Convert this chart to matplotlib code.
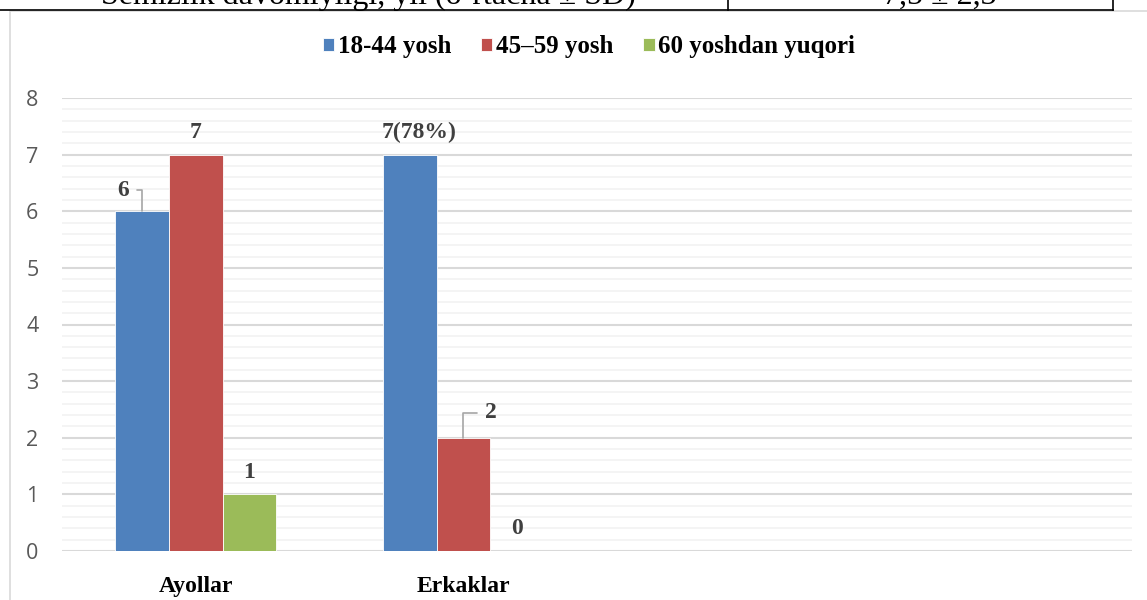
import matplotlib
matplotlib.use("Agg")
import matplotlib.pyplot as plt
from matplotlib.patches import Rectangle
from matplotlib.lines import Line2D
import numpy as np

# data
categories = ["Ayollar", "Erkaklar", "", ""]
series_names = ["18-44 yosh", "45\u201359 yosh", "60 yoshdan yuqori"]
young = [6, 7]
middle = [7, 2]
old = [1, 0]
young_labels = ["6", "7(78%)"]
middle_labels = ["7", "2"]
old_labels = ["1", "0"]
y_ticks = [0, 1, 2, 3, 4, 5, 6, 7, 8]

colors = ["#4f81bd", "#c0504d", "#9bbb59"]
serif = "Liberation Serif"

fig = plt.figure(figsize=(11.47, 6), dpi=100)
W, H = 1147, 600

# cut-off table row above the chart
fig.add_artist(Line2D([0, 1113 / W], [1 - 9.5 / H, 1 - 9.5 / H], color="black", lw=1.2))
fig.add_artist(Line2D([728 / W, 728 / W], [1 - 9.5 / H, 1.0], color="black", lw=1.2))
fig.add_artist(Line2D([1113 / W, 1113 / W], [1 - 9.5 / H, 1.0], color="black", lw=1.2))
fig.text(368 / W, 1 - 4 / H, "Semizlik davomiyligi, yil (o\u2018rtacha \u00b1 SD)",
         ha="center", va="baseline", family=serif, fontsize=23)
fig.text(940 / W, 1 - 4 / H, "7,5 \u00b1 2,3", ha="center", va="baseline",
         family=serif, fontsize=23)

# chart frame
fig.add_artist(Rectangle((9.5 / W, -0.1), 1.2, 1 - 10.5 / H + 0.1, transform=fig.transFigure,
                         fill=False, edgecolor="#d9d9d9", lw=1.2))

ax = fig.add_axes([62 / W, 1 - 551 / H, (1132 - 62) / W, (551 - 98) / H])

x = np.arange(len(categories))
bw = 0.2
groups = [young, middle, old]
labels = [young_labels, middle_labels, old_labels]
lab_font = dict(family=serif, fontsize=17, fontweight="bold", color="#404040")
leader = dict(arrowstyle="-", color="#a6a6a6", lw=1.2,
              connectionstyle="angle,angleA=0,angleB=90,rad=0", shrinkA=4, shrinkB=0)
for i, (vals, labs) in enumerate(zip(groups, labels)):
    xs = x[:len(vals)] + (i - 1) * bw
    ax.bar(xs, vals, width=bw, color=colors[i], edgecolor="white", linewidth=0.6,
           label=series_names[i], zorder=3)
    for xi, v, lab in zip(xs, vals, labs):
        if lab == "6":
            ax.annotate(lab, xy=(xi, v), xytext=(-14, 15), textcoords="offset points",
                        ha="center", va="center", arrowprops=leader, **lab_font)
        elif lab == "2":
            ax.annotate(lab, xy=(xi, v), xytext=(20, 18), textcoords="offset points",
                        ha="center", va="center", arrowprops=leader, **lab_font)
        else:
            dx = 7 if lab == "7(78%)" else 0
            ax.annotate(lab, xy=(xi, v), xytext=(dx, 16), textcoords="offset points",
                        ha="center", va="center", **lab_font)

ax.set_xlim(-0.5, len(categories) - 0.5)
ax.set_ylim(0, 8)
ax.set_yticks(y_ticks)
ax.set_yticks(np.arange(0, 8.01, 0.2), minor=True)
ax.set_xticks(x)
ax.set_xticklabels(categories, family=serif, fontsize=17, fontweight="bold")
ax.tick_params(axis="x", length=0, pad=18)
ax.tick_params(axis="y", which="both", length=0, pad=17, labelsize=15.5, labelcolor="#595959")
for t in ax.get_yticklabels():
    t.set_family("Open Sans")
ax.grid(axis="y", which="major", color="#d9d9d9", lw=1.5, zorder=0)
ax.grid(axis="y", which="minor", color="#f2f2f2", lw=1.2, zorder=0)
for s in ax.spines.values():
    s.set_visible(False)

fig.legend(loc="center", bbox_to_anchor=(589 / W, 1 - 47 / H), ncol=3, frameon=False,
           prop=dict(family=serif, size=18, weight="bold"), handlelength=0.45,
           handleheight=0.45, handletextpad=0.15, columnspacing=1.2)

fig.savefig("out.png", dpi=100)
